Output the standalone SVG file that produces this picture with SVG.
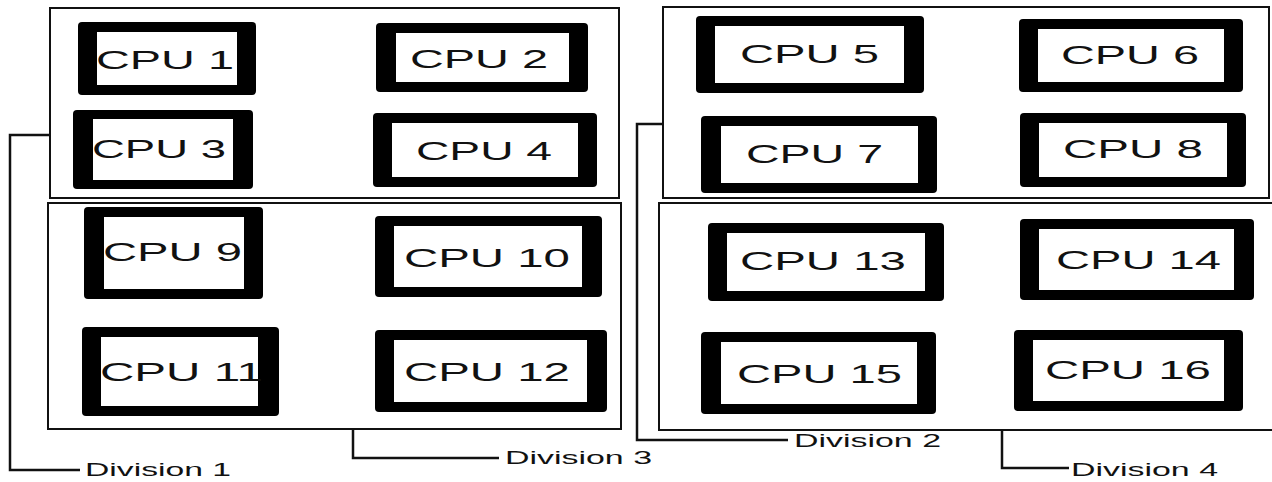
<svg xmlns="http://www.w3.org/2000/svg" width="1272" height="482" viewBox="0 0 1272 482">
<style>
.div{fill:none;stroke:#111;stroke-width:2}
.outer{fill:#000;stroke:none}
.inner{fill:#fff;stroke:none}
.cpu{font-family:"Liberation Sans",Arial,sans-serif;font-size:26px;fill:#111}
.lbl{font-family:"Liberation Sans",Arial,sans-serif;font-size:18px;fill:#111}
.conn{fill:none;stroke:#111;stroke-width:2.5}
</style>
<rect width="1272" height="482" fill="#fff"/>
<g id="division1"><rect class="div" x="50" y="8" width="569" height="190"/></g>
<g id="division3"><rect class="div" x="48" y="203" width="573" height="226"/></g>
<g id="division2"><rect class="div" x="663" y="7" width="606" height="191"/></g>
<g id="division4"><rect class="div" x="659" y="203" width="620" height="227"/></g>

<g id="cpu1"><rect class="outer" x="78" y="22" width="178" height="73" rx="4"/><rect class="inner" x="97" y="32" width="140" height="53"/><text class="cpu" x="96" y="69" textLength="138" lengthAdjust="spacingAndGlyphs">CPU 1</text></g>
<g id="cpu2"><rect class="outer" x="376" y="23" width="212" height="69" rx="4"/><rect class="inner" x="396" y="33" width="173" height="49"/><text class="cpu" x="410" y="68" textLength="138" lengthAdjust="spacingAndGlyphs">CPU 2</text></g>
<g id="cpu3"><rect class="outer" x="73" y="110" width="180" height="79" rx="4"/><rect class="inner" x="93" y="119" width="140" height="61"/><text class="cpu" x="92" y="158" textLength="134" lengthAdjust="spacingAndGlyphs">CPU 3</text></g>
<g id="cpu4"><rect class="outer" x="373" y="113" width="224" height="74" rx="4"/><rect class="inner" x="392" y="123" width="186" height="54"/><text class="cpu" x="416" y="160" textLength="136" lengthAdjust="spacingAndGlyphs">CPU 4</text></g>
<g id="cpu5"><rect class="outer" x="696" y="16" width="228" height="77" rx="4"/><rect class="inner" x="715" y="26" width="189" height="57"/><text class="cpu" x="740" y="63" textLength="139" lengthAdjust="spacingAndGlyphs">CPU 5</text></g>
<g id="cpu6"><rect class="outer" x="1019" y="19" width="224" height="73" rx="4"/><rect class="inner" x="1038" y="29" width="186" height="53"/><text class="cpu" x="1061" y="64" textLength="138" lengthAdjust="spacingAndGlyphs">CPU 6</text></g>
<g id="cpu7"><rect class="outer" x="701" y="116" width="236" height="77" rx="4"/><rect class="inner" x="721" y="126" width="197" height="57"/><text class="cpu" x="746" y="163" textLength="137" lengthAdjust="spacingAndGlyphs">CPU 7</text></g>
<g id="cpu8"><rect class="outer" x="1020" y="113" width="226" height="74" rx="4"/><rect class="inner" x="1039" y="123" width="188" height="54"/><text class="cpu" x="1063" y="158" textLength="140" lengthAdjust="spacingAndGlyphs">CPU 8</text></g>
<g id="cpu9"><rect class="outer" x="84" y="207" width="179" height="92" rx="4"/><rect class="inner" x="104" y="217" width="140" height="72"/><text class="cpu" x="103" y="261" textLength="139" lengthAdjust="spacingAndGlyphs">CPU 9</text></g>
<g id="cpu10"><rect class="outer" x="375" y="216" width="227" height="81" rx="4"/><rect class="inner" x="394" y="226" width="188" height="61"/><text class="cpu" x="404" y="267" textLength="166" lengthAdjust="spacingAndGlyphs">CPU 10</text></g>
<g id="cpu11"><rect class="outer" x="82" y="327" width="197" height="89" rx="4"/><rect class="inner" x="101" y="337" width="157" height="69"/><text class="cpu" x="100" y="381" textLength="163" lengthAdjust="spacingAndGlyphs">CPU 11</text></g>
<g id="cpu12"><rect class="outer" x="375" y="330" width="232" height="82" rx="4"/><rect class="inner" x="394" y="340" width="193" height="62"/><text class="cpu" x="404" y="381" textLength="166" lengthAdjust="spacingAndGlyphs">CPU 12</text></g>
<g id="cpu13"><rect class="outer" x="708" y="223" width="236" height="78" rx="4"/><rect class="inner" x="727" y="233" width="198" height="58"/><text class="cpu" x="740" y="270" textLength="166" lengthAdjust="spacingAndGlyphs">CPU 13</text></g>
<g id="cpu14"><rect class="outer" x="1020" y="219" width="234" height="81" rx="4"/><rect class="inner" x="1039" y="229" width="195" height="61"/><text class="cpu" x="1056" y="269" textLength="165" lengthAdjust="spacingAndGlyphs">CPU 14</text></g>
<g id="cpu15"><rect class="outer" x="701" y="332" width="235" height="82" rx="4"/><rect class="inner" x="721" y="342" width="196" height="62"/><text class="cpu" x="737" y="383" textLength="165" lengthAdjust="spacingAndGlyphs">CPU 15</text></g>
<g id="cpu16"><rect class="outer" x="1014" y="330" width="229" height="81" rx="4"/><rect class="inner" x="1033" y="340" width="191" height="61"/><text class="cpu" x="1045" y="379" textLength="166" lengthAdjust="spacingAndGlyphs">CPU 16</text></g>

<g id="connectors">
<polyline class="conn" points="50,135 10,135 10,470 80,470"/>
<polyline class="conn" points="353,429 353,458 499,458"/>
<polyline class="conn" points="663,124 637,124 637,440 788,440"/>
<polyline class="conn" points="1002,430 1002,468 1069,468"/>
</g>
<g id="labels">
<text class="lbl" x="85" y="476" textLength="146" lengthAdjust="spacingAndGlyphs">Division 1</text>
<text class="lbl" x="505" y="464" textLength="147" lengthAdjust="spacingAndGlyphs">Division 3</text>
<text class="lbl" x="794" y="447" textLength="147" lengthAdjust="spacingAndGlyphs">Division 2</text>
<text class="lbl" x="1071" y="476" textLength="147" lengthAdjust="spacingAndGlyphs">Division 4</text>
</g>
</svg>
